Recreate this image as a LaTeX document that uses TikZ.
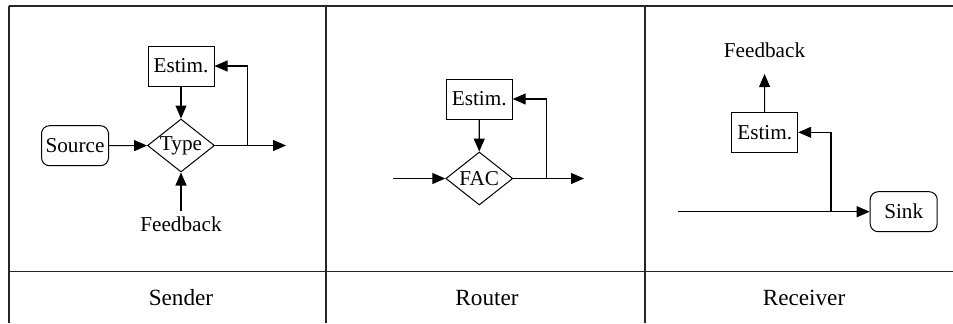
\documentclass[tikz,border=0pt]{standalone}
\usepackage{fontspec}
\setmainfont{Liberation Serif}
\usetikzlibrary{arrows.meta,shapes.geometric}

\tikzset{
  lbl/.style={font=\fontsize{10.6}{12.6}\selectfont, inner sep=0pt},
  title/.style={font=\fontsize{11.6}{13.9}\selectfont, inner sep=0pt},
  estbox/.style={lbl, draw, line width=0.5pt, minimum width=33pt, minimum height=20pt},
  endbox/.style={lbl, draw, line width=0.5pt, rounded corners=4pt, minimum width=33.5pt, minimum height=20pt},
  decide/.style={lbl, draw, line width=0.5pt, diamond, aspect=1.26, minimum width=33.5pt, minimum height=26.5pt},
  flow/.style={line width=0.55pt, -{Triangle[length=6.5pt,width=5.5pt]}},
  grid/.style={line width=0.6pt, black!85}
}

\begin{document}
\begin{tikzpicture}[x=0.5pt, y=-0.5pt]
  \useasboundingbox (0,0) rectangle (953,323);

  % table frame
  \draw[grid] (9,6) -- (953,6);
  \draw[grid] (9,6) -- (9,323);
  \draw[grid] (326,6) -- (326,323);
  \draw[grid] (645,6) -- (645,323);
  \draw[grid] (9,271.5) -- (953,271.5);

  % column titles
  \node[title] (tsend) at (181,298) {Sender};
  \node[title] (trout) at (487,298) {Router};
  \node[title] (trecv) at (804,298) {Receiver};

  % sender
  \node[estbox] (est1) at (181,66) {Estim.};
  \node[decide] (type) at (181,145.5) {Type};
  \node[endbox] (src) at (75,145.7) {Source};
  \node[lbl, anchor=north, inner ysep=2.85pt] (fb1) at (181,211) {Feedback};
  \coordinate (br1) at (247.7,145.5);
  \coordinate (out1) at (286,145.5);
  \draw[flow] (src) -- (type);
  \draw[flow] (est1) -- (type);
  \draw[flow] (fb1) -- (type);
  \draw[flow] (type) -- (out1);
  \draw[flow] (br1) |- (est1);

  % router
  \node[estbox] (est2) at (479.2,99) {Estim.};
  \node[decide] (fac) at (479.3,178.5) {FAC};
  \coordinate (in2) at (393.3,178.5);
  \coordinate (br2) at (546.3,178.5);
  \coordinate (out2) at (584,178.5);
  \draw[flow] (in2) -- (fac);
  \draw[flow] (est2) -- (fac);
  \draw[flow] (fac) -- (out2);
  \draw[flow] (br2) |- (est2);

  % receiver
  \node[estbox] (est3) at (764.7,132.3) {Estim.};
  \node[lbl, anchor=south, inner ysep=7.8pt] (fb3) at (764.5,74) {Feedback};
  \node[endbox] (sink) at (903.7,211.7) {Sink};
  \coordinate (in3) at (678.3,211.7);
  \coordinate (br3) at (831,211.7);
  \draw[flow] (in3) -- (sink);
  \draw[flow] (br3) |- (est3);
  \draw[flow] (est3) -- (fb3);
\end{tikzpicture}
\end{document}
